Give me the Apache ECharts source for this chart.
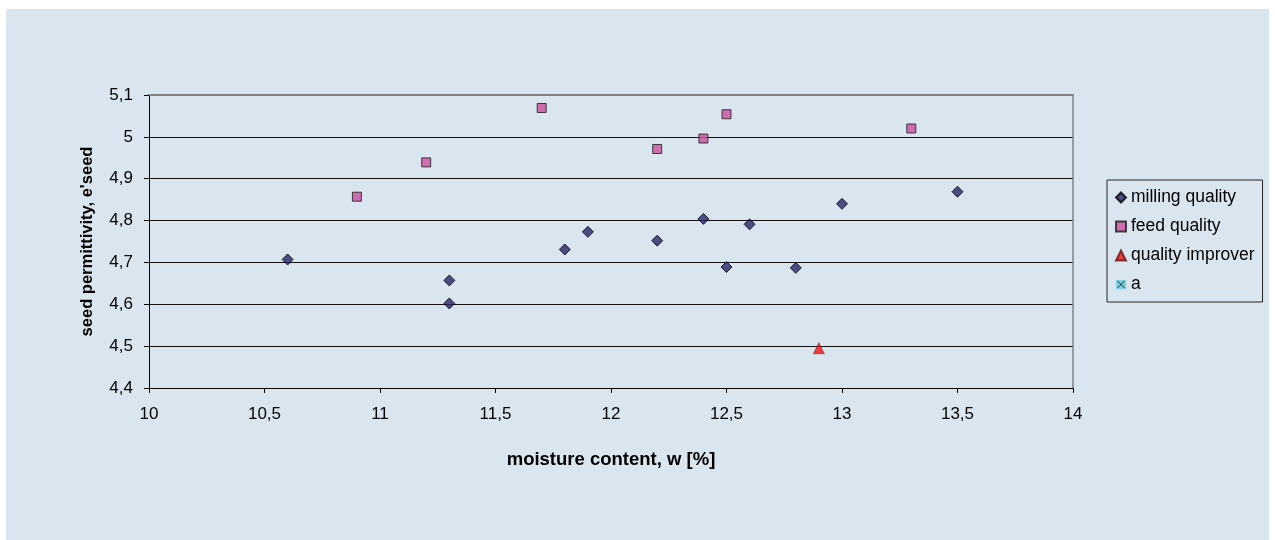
<!DOCTYPE html>
<html>
<head>
<meta charset="utf-8">
<script src="https://cdn.jsdelivr.net/npm/echarts@6/dist/echarts.min.js"></script>
<style>
  html, body { margin: 0; padding: 0; background: #ffffff; }
  #chart { position: absolute; left: 6px; top: 9px; width: 1263px; height: 531px; }
</style>
</head>
<body>
<div id="chart"></div>
<script>
// moisture content w [%] and seed permittivity for each sample group
const millingW = [10.6, 11.3, 11.3, 11.8, 11.9, 12.2, 12.4, 12.5, 12.6, 12.8, 13.0, 13.5];
const millingE = [4.707, 4.657, 4.602, 4.731, 4.773, 4.752, 4.804, 4.689, 4.791, 4.687, 4.840, 4.869];
const feedW = [10.9, 11.2, 11.7, 12.2, 12.4, 12.5, 13.3];
const feedE = [4.857, 4.939, 5.069, 4.971, 4.996, 5.054, 5.020];
const improverW = [12.9];
const improverE = [4.495];
const seriesNames = ['milling quality', 'feed quality', 'quality improver', 'a'];

const FONT = "'Liberation Sans', Arial, sans-serif";
const comma = v => String(Math.round(v * 10) / 10).replace('.', ',');
const pairs = (xs, ys) => xs.map((x, i) => [x, ys[i]]);

// cyan box with a cross, used as the legend icon of series "a"
const crossIcon = 'image://data:image/svg+xml;utf8,' + encodeURIComponent(
  '<svg xmlns="http://www.w3.org/2000/svg" width="20" height="20" viewBox="0 0 20 20">' +
  '<rect width="20" height="20" fill="#66CCDD"/>' +
  '<path d="M3 3L17 17M17 3L3 17" stroke="#000" stroke-width="2"/></svg>');

const chart = echarts.init(document.getElementById('chart'), null, { renderer: 'canvas' });
chart.setOption({
  backgroundColor: '#DAE6EF',
  animation: false,
  textStyle: { fontFamily: FONT },
  grid: { left: 143, right: 196, top: 86, bottom: 152, containLabel: false },
  legend: {
    orient: 'vertical',
    left: 1101, top: 171,
    padding: [8, 8, 8, 8],
    borderColor: '#222', borderWidth: 1,
    itemWidth: 10, itemHeight: 10, itemGap: 10,
    textStyle: { fontFamily: FONT, fontSize: 17.5, color: '#000', lineHeight: 19 },
    data: [
      { name: seriesNames[0], icon: 'diamond' },
      { name: seriesNames[1], icon: 'rect' },
      { name: seriesNames[2], icon: 'triangle' },
      { name: seriesNames[3], icon: crossIcon }
    ]
  },
  xAxis: [{
    type: 'value', min: 10, max: 14, interval: 0.5,
    name: 'moisture content, w [%]', nameLocation: 'middle', nameGap: 62,
    nameTextStyle: { fontFamily: FONT, fontSize: 18.5, fontWeight: 'bold', color: '#000' },
    axisLine: { show: true, onZero: false, lineStyle: { color: '#000', width: 1 } },
    axisTick: { show: true, length: 5, lineStyle: { color: '#000' } },
    axisLabel: { fontFamily: FONT, fontSize: 17, color: '#000', margin: 18, formatter: comma },
    splitLine: { show: false }
  }, {
    type: 'value', position: 'top', min: 10, max: 14, interval: 0.5,
    axisLine: { show: true, onZero: false, lineStyle: { color: '#808080', width: 2 } },
    axisTick: { show: false }, axisLabel: { show: false }, splitLine: { show: false }
  }],
  yAxis: [{
    type: 'value', min: 4.4, max: 5.1, interval: 0.1,
    name: "seed permittivity, e'seed", nameLocation: 'middle', nameGap: 53,
    nameTextStyle: { fontFamily: FONT, fontSize: 16.5, fontWeight: 'bold', color: '#000' },
    axisLine: { show: true, onZero: false, lineStyle: { color: '#000', width: 1 } },
    axisTick: { show: true, length: 5, lineStyle: { color: '#000' } },
    axisLabel: { fontFamily: FONT, fontSize: 17, color: '#000', margin: 16, formatter: comma },
    splitLine: { show: true, showMinLine: false, showMaxLine: false, lineStyle: { color: '#111', width: 1 } }
  }, {
    type: 'value', position: 'right', min: 4.4, max: 5.1, interval: 0.1,
    axisLine: { show: true, onZero: false, lineStyle: { color: '#808080', width: 1.5 } },
    axisTick: { show: false }, axisLabel: { show: false }, splitLine: { show: false }
  }],
  series: [
    {
      name: seriesNames[0], type: 'scatter', symbol: 'diamond', symbolSize: 11,
      itemStyle: { color: '#262668', borderColor: '#000', borderWidth: 1 },
      data: pairs(millingW, millingE)
    },
    {
      name: seriesNames[1], type: 'scatter', symbol: 'rect', symbolSize: 9,
      itemStyle: { color: '#C94FA0', borderColor: '#1a1a1a', borderWidth: 1 },
      data: pairs(feedW, feedE)
    },
    {
      name: seriesNames[2], type: 'scatter', symbol: 'triangle', symbolSize: 11,
      itemStyle: { color: '#EE1111', borderColor: '#661111', borderWidth: 0.6 },
      data: pairs(improverW, improverE)
    },
    {
      name: seriesNames[3], type: 'scatter', symbol: 'rect', symbolSize: 9,
      itemStyle: { color: '#66CCDD' },
      data: []
    }
  ]
});
</script>
</body>
</html>
